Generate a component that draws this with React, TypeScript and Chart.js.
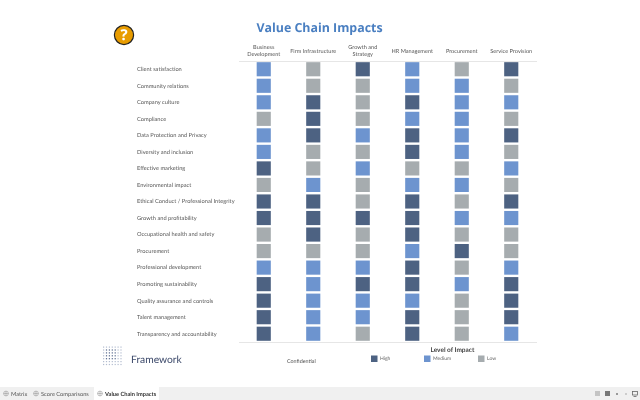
import React, { useEffect, useRef } from "react";
import { Chart, registerables } from "chart.js";

Chart.register(...registerables);

const functions = [
  ["Business", "Development"],
  "Firm Infrastructure",
  ["Growth and", "Strategy"],
  "HR Management",
  "Procurement",
  "Service Provision",
];
const columnKeys = ["Business Development", "Firm Infrastructure", "Growth and Strategy", "HR Management", "Procurement", "Service Provision"];
const topics = [
  "Client satisfaction",
  "Community relations",
  "Company culture",
  "Compliance",
  "Data Protection and Privacy",
  "Diversity and inclusion",
  "Effective marketing",
  "Environmental impact",
  "Ethical Conduct / Professional Integrity",
  "Growth and profitability",
  "Occupational health and safety",
  "Procurement",
  "Professional development",
  "Promoting sustainability",
  "Quality assurance and controls",
  "Talent management",
  "Transparency and accountability",
];
const levels = [
  "MLHMLH",
  "MLLMML",
  "MHLHMM",
  "LHLMML",
  "MHMHMH",
  "MLLHML",
  "HLMLLM",
  "LMLMML",
  "HHLHLH",
  "HHHHMM",
  "LHLHLL",
  "LLLMHL",
  "MMMHLM",
  "HMHHMH",
  "HMMMLH",
  "HMMHLH",
  "HMLHLM",
];
const levelCodes = ["H", "M", "L"];
const levelNames = ["High", "Medium", "Low"];
const levelColors = ["#4d6282", "#6d94cf", "#a6acaf"];
const tabs = ["Matrix", "Score Comparisons", "Value Chain Impacts"];

const FONT = "Lato, sans-serif";
const TITLE_FONT = "'Open Sans', sans-serif";

function pointsFor(code: string) {
  const out: { x: string; y: string }[] = [];
  levels.forEach((row, r) => {
    row.split("").forEach((c, i) => {
      if (c === code) out.push({ x: columnKeys[i], y: topics[r] });
    });
  });
  return out;
}

const decorations = {
  id: "decorations",
  afterLayout(chart: any) {
    // the title is centred on the page, not on the padded box
    chart.titleBlock.left = 0;
    chart.titleBlock.right = 639;
  },
  beforeDraw(chart: any) {
    // fractional glyph advances keep very small labels at their natural width
    chart.ctx.textRendering = "geometricPrecision";
  },
  afterDraw(chart: any) {
    const { ctx, chartArea } = chart;
    ctx.save();
    // rules at the top and bottom of the grid
    ctx.strokeStyle = "#e6e6e6";
    ctx.lineWidth = 1;
    [chartArea.top, chartArea.bottom].forEach((y: number) => {
      ctx.beginPath();
      ctx.moveTo(chartArea.left, y + 0.5);
      ctx.lineTo(chartArea.right + 1, y + 0.5);
      ctx.stroke();
    });

    // help badge
    ctx.fillStyle = "#e89c00";
    ctx.strokeStyle = "#222222";
    ctx.lineWidth = 1.2;
    ctx.beginPath();
    ctx.arc(124, 35, 9.6, 0, Math.PI * 2);
    ctx.fill();
    ctx.stroke();
    ctx.fillStyle = "#ffffff";
    ctx.font = "bold 15px " + TITLE_FONT;
    ctx.textAlign = "center";
    ctx.textBaseline = "middle";
    ctx.fillText("?", 124, 35.5);

    // logo mark
    for (let r = 0; r < 7; r++) {
      for (let c = 0; c < 7; c++) {
        const dark = r > 0 && r < 5 && c > 0 && c < 5;
        ctx.fillStyle = dark ? "#56688c" : "#b3bdd0";
        ctx.fillRect(103 + c * 2.9, 346.5 + r * 2.9, 1.2, 1.2);
      }
    }
    ctx.textAlign = "left";
    ctx.textBaseline = "middle";
    ctx.fillStyle = "#3d4a6b";
    ctx.font = "10.3px Lato, sans-serif";
    ctx.fillText("Framework", 131, 359.5);

    ctx.fillStyle = "#555555";
    ctx.font = "5.4px " + FONT;
    ctx.fillText("Confidential", 287, 361.5);

    // legend, built from the datasets
    ctx.fillStyle = "#444444";
    ctx.font = "bold 6.5px " + FONT;
    ctx.fillText("Level of Impact", 430.5, 350);
    const legendX = [371, 424, 478];
    chart.data.datasets.forEach((d: any, i: number) => {
      ctx.fillStyle = d.backgroundColor;
      ctx.fillRect(legendX[i], 355.5, 6.5, 6.5);
      ctx.fillStyle = "#666666";
      ctx.font = "5px " + FONT;
      ctx.fillText(d.label, legendX[i] + 9, 358.5);
    });

    // tab strip
    ctx.fillStyle = "#f0f0f0";
    ctx.fillRect(0, 387, 640, 13);
    ctx.fillStyle = "#ffffff";
    ctx.fillRect(94, 387, 65, 13);
    const tabX = [3, 33, 97];
    tabs.forEach((t, i) => {
      ctx.strokeStyle = "#9a9a9a";
      ctx.lineWidth = 0.6;
      ctx.beginPath();
      ctx.arc(tabX[i] + 3, 393.5, 2.4, 0, Math.PI * 2);
      ctx.moveTo(tabX[i] + 0.6, 393.5);
      ctx.lineTo(tabX[i] + 5.4, 393.5);
      ctx.moveTo(tabX[i] + 3, 391.1);
      ctx.lineTo(tabX[i] + 3, 395.9);
      ctx.stroke();
      ctx.fillStyle = i === 2 ? "#333333" : "#555555";
      ctx.font = (i === 2 ? "bold " : "") + "5.7px " + FONT;
      ctx.fillText(t, tabX[i] + 8, 393.7);
    });
    // status-bar icons
    ctx.fillStyle = "#c4c4c4";
    ctx.fillRect(595, 391, 5, 5);
    ctx.fillStyle = "#777777";
    ctx.fillRect(605, 391, 5, 5);
    ctx.fillStyle = "#999999";
    ctx.fillRect(616, 393, 2, 2);
    ctx.fillStyle = "#cccccc";
    ctx.fillRect(625, 393, 2, 2);
    ctx.strokeStyle = "#666666";
    ctx.lineWidth = 0.8;
    ctx.strokeRect(632.5, 391.5, 5, 3.5);
    ctx.beginPath();
    ctx.moveTo(633.5, 396.5);
    ctx.lineTo(636.5, 396.5);
    ctx.stroke();
    ctx.restore();
  },
};

export default function App() {
  const ref = useRef<HTMLCanvasElement>(null);
  useEffect(() => {
    const chart = new Chart(ref.current as HTMLCanvasElement, {
      type: "scatter",
      data: {
        datasets: levelCodes.map((code, i) => ({
          label: levelNames[i],
          data: pointsFor(code),
          backgroundColor: levelColors[i],
          borderWidth: 0,
          pointStyle: "rect",
          pointRadius: 10,
          pointHoverRadius: 10,
        })),
      },
      options: {
        responsive: false,
        animation: false,
        layout: { padding: { left: 137, right: 104, top: 0, bottom: 58 } },
        plugins: {
          legend: { display: false },
          tooltip: { enabled: false },
          title: {
            display: true,
            text: "Value Chain Impacts",
            color: "#4a7fc1",
            font: { family: TITLE_FONT, size: 12.4, weight: "bold", lineHeight: 1.2 },
            padding: { top: 21.5, bottom: 0 },
          },
        },
        scales: {
          x: {
            type: "category",
            position: "top",
            labels: columnKeys,
            offset: true,
            grid: { display: false },
            border: { display: false },
            afterFit(s: any) {
              s.height = 24.6;
            },
            ticks: {
              autoSkip: false,
              maxRotation: 0,
              minRotation: 0,
              padding: -1.5,
              crossAlign: "center",
              color: "#555555",
              font: { family: FONT, size: 5.6, lineHeight: 1.27 },
              callback: (_v: any, i: number) => functions[i],
            },
          },
          y: {
            type: "category",
            labels: topics,
            offset: true,
            grid: { display: false },
            border: { display: false },
            afterFit(s: any) {
              s.width = 102;
            },
            ticks: {
              autoSkip: false,
              crossAlign: "far",
              color: "#555555",
              font: { family: FONT, size: 5.7 },
            },
          },
        },
      },
      plugins: [decorations],
    } as any);
    return () => chart.destroy();
  }, []);
  return (
    <canvas
      ref={ref}
      width={640}
      height={400}
      style={{ position: "fixed", left: 0, top: 0, width: 640, height: 400, background: "#ffffff" }}
    />
  );
}
